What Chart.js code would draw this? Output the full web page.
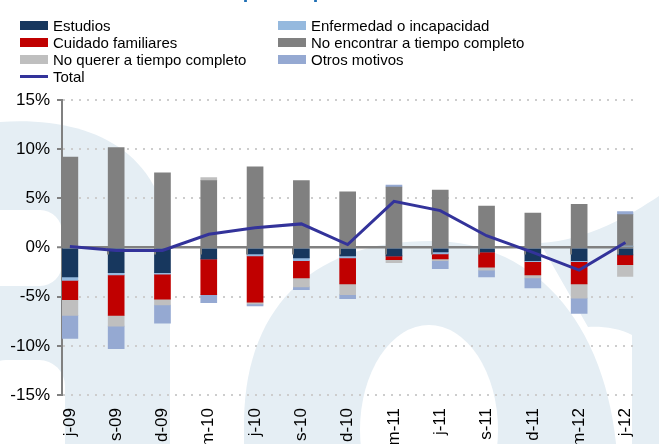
<!DOCTYPE html>
<html>
<head>
<meta charset="utf-8">
<script src="https://cdn.jsdelivr.net/npm/chart.js@4"></script>
<style>
  html, body { margin:0; padding:0; background:#fff; overflow:hidden; }
  body { width:659px; height:444px; position:relative; font-family:"Liberation Sans", Arial, sans-serif; }
  #wrap { position:absolute; left:0; top:0; width:659px; height:470px; }
  #title { position:absolute; left:0; width:659px; top:-39px; text-align:center; color:#1f6fb4;
           font:bold 20px/20px "Liberation Sans", Arial, sans-serif; z-index:2; }
  #legend { position:absolute; left:0; top:0; width:659px; height:90px; z-index:2; }
  .item { position:absolute; height:17px; display:flex; align-items:center; font-size:15px; color:#000; white-space:nowrap; }
  .item span.box { display:inline-block; width:28px; height:9px; margin-right:5px; }
  .item span.ln { display:inline-block; width:28px; height:3px; margin-right:5px; }
</style>
</head>
<body>
<div id="title">Contribución al crecimiento del empleo a tiempo<br>parcial por motivo</div>
<div id="legend"></div>
<div id="wrap"><canvas id="chart"></canvas></div>
<script>
// categorias
const labels = ['j-09','s-09','d-09','m-10','j-10','s-10','d-10','m-11','j-11','s-11','d-11','m-12','j-12'];

// series (puntos porcentuales)
const estudios    = [-3.0, -2.55, -2.55, -1.15, -0.65, -1.05, -0.85, -0.85, -0.45, -0.45, -1.35, -1.35, -0.75];
const enfermedad  = [-0.35, -0.25, -0.15, 0, -0.2, -0.3, -0.2, 0, -0.2, 0, -0.1, -0.1, 0.15];
const cuidado     = [-1.95, -4.1, -2.55, -3.65, -4.7, -1.75, -2.65, -0.4, -0.5, -1.55, -1.35, -2.25, -1.0];
const noEncontrar = [9.2, 10.15, 7.6, 6.8, 8.2, 6.8, 5.65, 6.15, 5.85, 4.2, 3.5, 4.4, 3.2];
const noQuerer    = [-1.6, -1.1, -0.6, 0.3, -0.2, -0.9, -1.1, -0.3, -0.2, -0.3, -0.3, -1.45, -1.2];
const otros       = [-2.35, -2.3, -1.85, -0.8, -0.2, -0.3, -0.4, 0.2, -0.8, -0.7, -1.0, -1.55, 0.3];
const total       = [0.1, -0.3, -0.3, 1.35, 2.0, 2.4, 0.3, 4.7, 3.75, 1.2, -0.5, -2.3, 0.5];

const yTicks = [-15, -10, -5, 0, 5, 10, 15];

function pts(arr){ return arr.map((v,i)=>({x:i, y:v})); }

function bar(label, data, color){
  return { type:'bar', label:label, data:pts(data), backgroundColor:color, borderWidth:0,
           barThickness:16, order:1 };
}

// fondo con las letras claras
const watermark = {
  id:'watermark',
  beforeDraw(chart){
    const c = chart.ctx;
    c.save();
    c.fillStyle = '#e5eef4';
    // "a" izquierda
    c.beginPath();
    c.moveTo(0,122);
    c.bezierCurveTo(90,116, 166,150, 170,250);
    c.lineTo(170,470); c.lineTo(0,470); c.closePath();
    c.fill();
    // "o"
    c.beginPath();
    c.moveTo(244,470); c.lineTo(244,420);
    c.bezierCurveTo(246,300, 320,241, 430,241);
    c.bezierCurveTo(540,241, 612,330, 618,470);
    c.closePath(); c.fill();
    // trazo derecho
    c.beginPath();
    c.moveTo(540,243);
    c.bezierCurveTo(590,240, 630,215, 659,196);
    c.lineTo(659,470); c.lineTo(632,470); c.lineTo(632,335);
    c.bezierCurveTo(620,328, 600,326, 588,327);
    c.closePath(); c.fill();
    // huecos
    c.fillStyle = '#ffffff';
    c.beginPath(); c.roundRect(-20,210,82,76,22); c.fill();
    c.beginPath(); c.roundRect(-20,360,85,140,26); c.fill();
    c.beginPath(); c.ellipse(429,430,69,105,0,0,Math.PI*2); c.fill();
    c.restore();
  }
};

// marcas del eje de categorias sobre el cero
const catTicks = {
  id:'catTicks',
  beforeDatasetDraw(chart, args){
    if(args.meta.type !== 'line') return;
    const xs = chart.scales.x, ys = chart.scales.y;
    const y0 = ys.getPixelForValue(0);
    const c = chart.ctx;
    c.save();
    c.fillStyle = '#808080';
    for(let k=1;k<labels.length;k++){
      const x = xs.getPixelForValue(k - 0.17);
      c.fillRect(Math.round(x)-1, y0, 2, 7);
    }
    c.restore();
  }
};

const chart = new Chart(document.getElementById('chart'), {
  data: {
    datasets: [
      bar('Estudios', estudios, '#17375e'),
      bar('Enfermedad o incapacidad', enfermedad, '#95b9de'),
      bar('Cuidado familiares', cuidado, '#c00000'),
      bar('No encontrar a tiempo completo', noEncontrar, '#808080'),
      bar('No querer a tiempo completo', noQuerer, '#bfbfbf'),
      bar('Otros motivos', otros, '#95a9d2'),
      { type:'line', label:'Total', data:pts(total), borderColor:'#33339a', borderWidth:3,
        pointRadius:0, tension:0, stack:'total', order:0 }
    ]
  },
  options: {
    responsive:true,
    maintainAspectRatio:false,
    animation:false,
    layout:{ padding:{ top:100, right:11, left:0, bottom:0 } },
    plugins:{ legend:{display:false}, tooltip:{enabled:false}, title:{display:false} },
    font:{ family:'"Liberation Sans", Arial, sans-serif' },
    scales:{
      x:{
        type:'linear', stacked:true, min:-0.17, max:12.17, offset:false,
        afterBuildTicks: s => { s.ticks = labels.map((l,i)=>({value:i})); },
        afterFit: s => { s.height = 75; },
        ticks:{ autoSkip:false, minRotation:90, maxRotation:90, padding:13, color:'#000',
                font:{ size:17, family:'"Liberation Sans", Arial, sans-serif' },
                callback: v => labels[v] },
        grid:{ display:false, drawTicks:false },
        border:{ display:false }
      },
      y:{
        stacked:true, min:-15, max:15,
        afterBuildTicks: s => { s.ticks = yTicks.map(v=>({value:v})); },
        afterFit: s => { s.width = 62; },
        ticks:{ color:'#000', padding:7, font:{ size:17, family:'"Liberation Sans", Arial, sans-serif' },
                callback: v => v + '%' },
        grid:{
          color: c => c.tick && c.tick.value === 0 ? '#808080' : '#cdcdcd',
          lineWidth: c => c.tick && c.tick.value === 0 ? 2.5 : 2,
          tickLength:5, tickColor:'#808080', tickWidth:2
        },
        border:{ display:true, color:'#808080', width:2,
                 dash: c => c.tick && c.tick.value === 0 ? [] : [2,6] }
      }
    }
  },
  plugins:[watermark, catTicks]
});

// leyenda en dos columnas
const cols = [
  ['Estudios','Cuidado familiares','No querer a tiempo completo','Total'],
  ['Enfermedad o incapacidad','No encontrar a tiempo completo','Otros motivos']
];
const colX = [20, 278];
const leg = document.getElementById('legend');
cols.forEach((col, ci) => {
  col.forEach((name, ri) => {
    const ds = chart.data.datasets.find(d => d.label === name);
    const it = document.createElement('div');
    it.className = 'item';
    it.style.left = colX[ci] + 'px';
    it.style.top = (17 + ri*17) + 'px';
    const sw = document.createElement('span');
    if(ds.type === 'line'){ sw.className = 'ln'; sw.style.background = ds.borderColor; }
    else { sw.className = 'box'; sw.style.background = ds.backgroundColor; }
    it.appendChild(sw);
    it.appendChild(document.createTextNode(name));
    leg.appendChild(it);
  });
});
</script>
</body>
</html>
